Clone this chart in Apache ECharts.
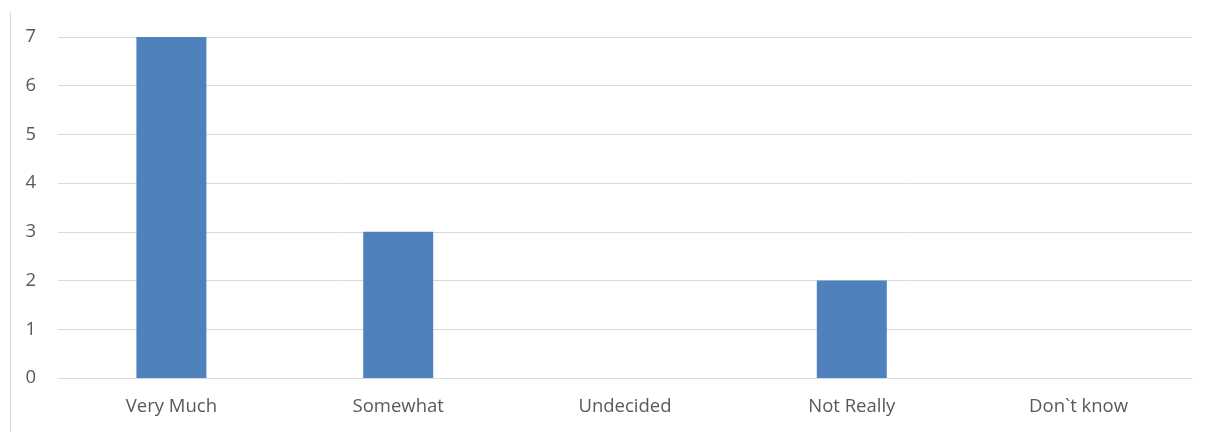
<!DOCTYPE html>
<html>
<head>
<meta charset="utf-8">
<script src="https://cdn.jsdelivr.net/npm/echarts@6/dist/echarts.min.js"></script>
<style>
html,body{margin:0;padding:0;background:#fff;}
#chart{width:1210px;height:432px;}
</style>
</head>
<body>
<div id="chart"></div>
<script>
const categories = ["Very Much", "Somewhat", "Undecided", "Not Really", "Don`t know"];
const values = [7, 3, 0, 2, 0];
const yTicks = [0, 1, 2, 3, 4, 5, 6, 7];

const chart = echarts.init(document.getElementById('chart'), null, {renderer: 'canvas'});
chart.setOption({
  animation: false,
  backgroundColor: '#ffffff',
  graphic: [{
    type: 'line',
    shape: {x1: 10.5, y1: 12, x2: 10.5, y2: 432},
    style: {stroke: '#d9d9d9', lineWidth: 1}
  }],
  grid: {left: 58, right: 18, top: 37, bottom: 54, containLabel: false},
  xAxis: {
    type: 'category',
    data: categories,
    axisLine: {show: true, lineStyle: {color: '#d9d9d9', width: 1}},
    axisTick: {show: false},
    axisLabel: {color: '#595959', fontSize: 18.5, fontFamily: 'Open Sans', margin: 19}
  },
  yAxis: {
    type: 'value',
    min: yTicks[0],
    max: yTicks[yTicks.length - 1],
    interval: 1,
    axisLine: {show: false},
    axisTick: {show: false},
    splitLine: {lineStyle: {color: '#d9d9d9', width: 1}},
    axisLabel: {color: '#595959', fontSize: 18.5, fontFamily: 'Open Sans', margin: 22}
  },
  series: [{
    type: 'bar',
    data: values,
    barWidth: 70,
    itemStyle: {color: '#4f81bd'}
  }]
});
</script>
</body>
</html>
